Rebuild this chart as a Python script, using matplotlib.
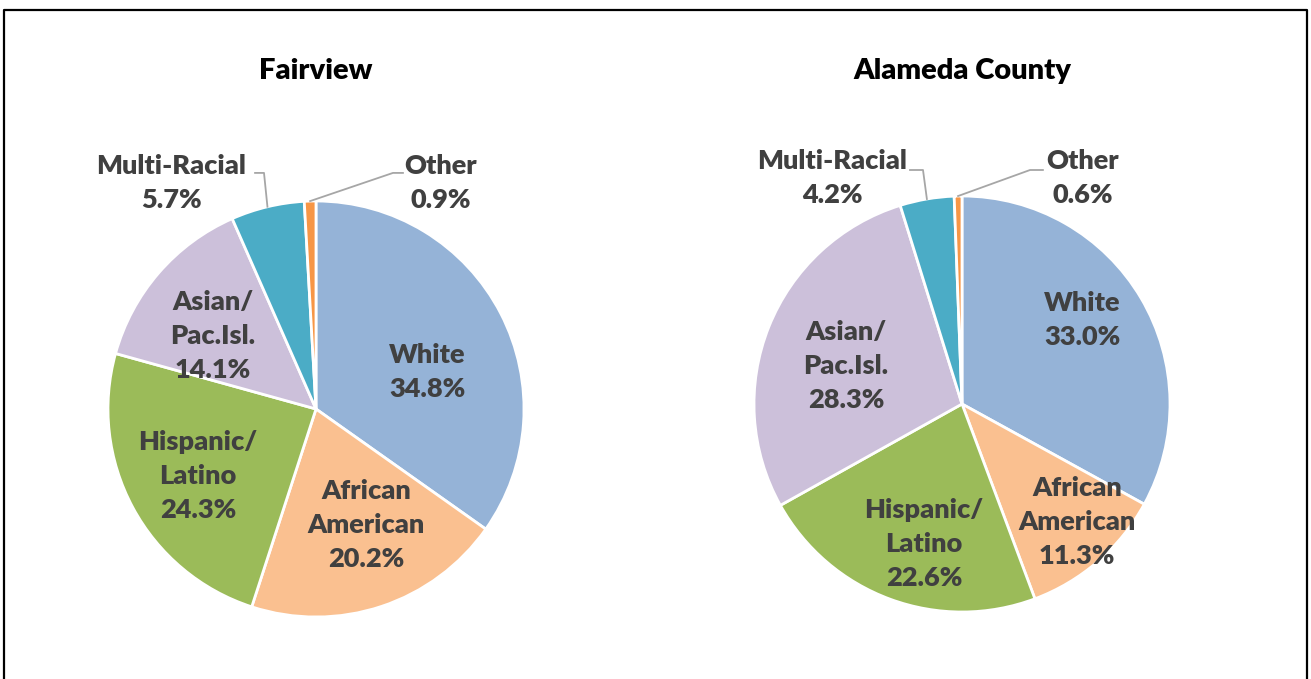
import matplotlib
matplotlib.use("Agg")
import matplotlib.pyplot as plt
from matplotlib.lines import Line2D
import numpy as np

# ---------------------------------------------------------------------------
# Data
# ---------------------------------------------------------------------------

CATEGORIES = ["White", "African\nAmerican", "Hispanic/\nLatino", "Asian/\nPac.Isl.",
              "Multi-Racial", "Other"]
FAIRVIEW = [34.8, 20.2, 24.3, 14.1, 5.7, 0.9]
ALAMEDA = [33.0, 11.3, 22.6, 28.3, 4.2, 0.6]
TITLES = ["Fairview", "Alameda County"]

COLORS = ["#95B3D7", "#FAC090", "#9BBB59", "#CCC0DA", "#4BACC6", "#F79646"]
TEXT_COLOR = "#404040"
LEADER_COLOR = "#A6A6A6"

# label positions (in pie-radius units) per chart
LABEL_POS = [
    [(0.534, 0.178), (0.240, -0.56), (-0.567, -0.322), (-0.495, 0.351),
     (-0.697, 1.087), (0.601, 1.087)],
    [(0.577, 0.404), (0.553, -0.567), (-0.183, -0.673), (-0.558, 0.183),
     (-0.625, 1.087), (0.582, 1.087)],
]
# leader lines for the small slices: (slice index, label end, elbow)
LEADERS = [
    [(4, (-0.293, 1.135), (-0.25, 1.135)), (5, (0.418, 1.135), (0.370, 1.135))],
    [(4, (-0.25, 1.125), (-0.1875, 1.125)), (5, (0.389, 1.125), (0.327, 1.125))],
]

W, H = 1311, 679
R_PX = 208
CENTERS = [(316, 409), (962, 404)]

plt.rcParams["font.family"] = ["Lato", "DejaVu Sans"]

fig = plt.figure(figsize=(W / 100, H / 100), dpi=100)

for k, values in enumerate([FAIRVIEW, ALAMEDA]):
    cx, cy = CENTERS[k]
    ax = fig.add_axes([(cx - R_PX) / W, (H - cy - R_PX) / H, 2 * R_PX / W, 2 * R_PX / H])
    wedges, _ = ax.pie(values, colors=COLORS, startangle=90, counterclock=False,
                       radius=1, wedgeprops=dict(edgecolor="white", linewidth=2))
    ax.set_xlim(-1, 1)
    ax.set_ylim(-1, 1)
    ax.set_aspect("equal")
    ax.axis("off")

    for i, (cat, val) in enumerate(zip(CATEGORIES, values)):
        x, y = LABEL_POS[k][i]
        ax.text(x, y, f"{cat}\n{val:.1f}%", ha="center", va="center", fontsize=19.5,
                fontweight="heavy", color=TEXT_COLOR, linespacing=1.5)

    # leader lines from the slice edge to the label
    for idx, end, elbow in LEADERS[k]:
        w = wedges[idx]
        mid = np.deg2rad((w.theta1 + w.theta2) / 2)
        sx, sy = np.cos(mid), np.sin(mid)
        ax.add_line(Line2D([sx, elbow[0], end[0]], [sy, elbow[1], end[1]],
                           color=LEADER_COLOR, linewidth=1.3, clip_on=False))

    ax.text(0, (cy - 71) / R_PX, TITLES[k], ha="center", va="center", fontsize=21,
            fontweight="heavy", color="black")

# chart border (bottom edge is cut off in the original)
fig.add_artist(Line2D([3.5 / W, 3.5 / W, 1306.5 / W, 1306.5 / W],
                      [0, 1 - 9.5 / H, 1 - 9.5 / H, 0], color="black", linewidth=1.6))

fig.savefig("out.png", dpi=100, facecolor="white")
